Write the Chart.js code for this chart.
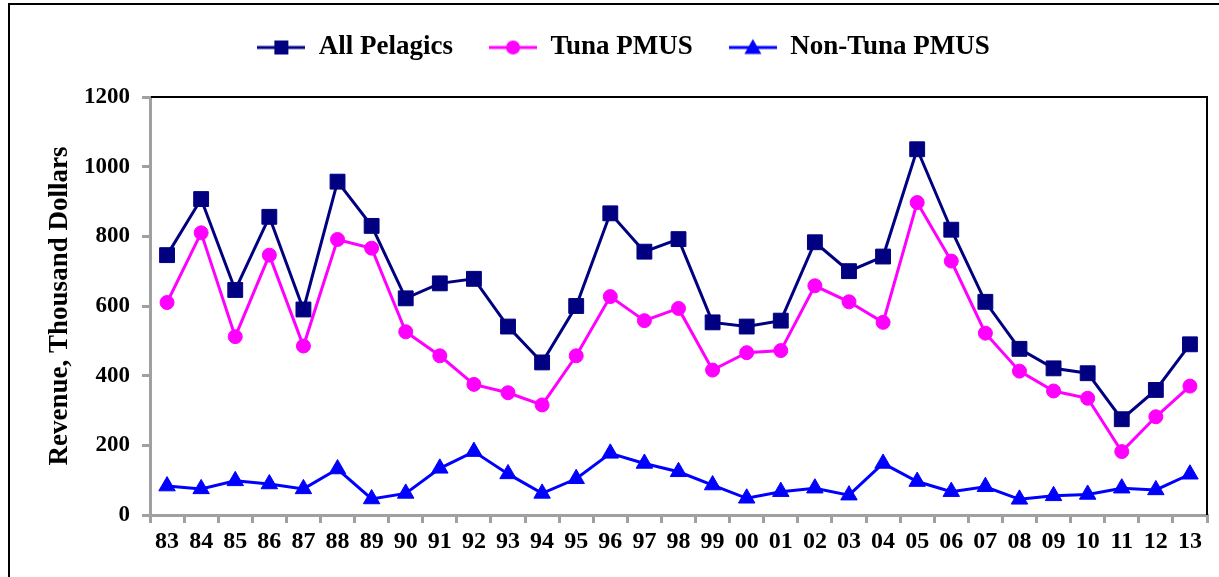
<!DOCTYPE html>
<html><head><meta charset="utf-8">
<script src="https://cdn.jsdelivr.net/npm/chart.js@4/dist/chart.umd.min.js"></script>
<style>
html,body{margin:0;padding:0;background:#fff;overflow:hidden;width:1219px;height:577px}
#frame{position:absolute;left:8px;top:3px;width:1400px;height:800px;border:2px solid #000;box-sizing:border-box}
#wrap{position:absolute;left:0;top:0;width:1219px;height:577px}
</style></head><body>
<div id="frame"></div>
<div id="wrap"><canvas id="c" width="1219" height="577"></canvas></div>
<script>
const categories = ['83','84','85','86','87','88','89','90','91','92','93','94','95','96','97','98','99','00','01','02','03','04','05','06','07','08','09','10','11','12','13'];
const allPelagics = [746,907,646,856,590,957,830,622,665,678,541,438,600,866,756,792,553,541,558,783,700,742,1050,819,612,477,421,407,275,359,490];
const tunaPMUS    = [610,810,512,746,485,791,766,526,457,375,351,316,457,627,558,593,416,466,472,658,612,553,897,729,522,413,356,335,182,282,370];
const nonTunaPMUS = [83,75,98,89,75,132,46,62,134,182,118,62,104,177,148,124,86,48,67,77,57,148,96,67,81,45,55,59,77,72,117];
const yTickValues = [0,200,400,600,800,1000,1200];
const seriesNames = ['All Pelagics','Tuna PMUS','Non-Tuna PMUS'];
const seriesColors = ['#000080','#FF00FF','#0000FF'];
const seriesStyles = ['rect','circle','triangle'];
const yTitle = 'Revenue, Thousand Dollars';

const FONT = "'Liberation Serif','Times New Roman',serif";

function makeIcon(color, style){
  const c = document.createElement('canvas');
  c.width = 48; c.height = 20;
  const g = c.getContext('2d');
  g.strokeStyle = color; g.fillStyle = color; g.lineWidth = 3;
  g.beginPath(); g.moveTo(0,10); g.lineTo(48,10); g.stroke();
  g.beginPath();
  if (style === 'rect') { g.rect(17,3,14,14); }
  else if (style === 'circle') { g.arc(24,10,7,0,Math.PI*2); }
  else { g.moveTo(24,1.5); g.lineTo(32.5,16.5); g.lineTo(15.5,16.5); g.closePath(); }
  g.fill();
  return c;
}
const icons = seriesColors.map((c,i)=>makeIcon(c, seriesStyles[i]));

const seriesData = [allPelagics, tunaPMUS, nonTunaPMUS];
const radii = [10.5, 7, 9.5];

const plotBorder = {
  id: 'plotBorder',
  beforeUpdate(chart){
    const lg = chart.legend;
    if (lg && !lg._patched){
      const origFit = lg.fit;
      lg.fit = function(){ origFit.call(this); this.height = 96; };
      const origDraw = lg.draw;
      lg.draw = function(){ const c = this.ctx; c.save(); c.translate(0,-3); origDraw.call(this); c.restore(); };
      lg._patched = true;
    }
  },
  afterDatasetsDraw(chart){
    const {ctx, chartArea:{left,top,right,bottom}} = chart;
    ctx.save();
    ctx.strokeStyle = '#000'; ctx.lineWidth = 2;
    ctx.beginPath(); ctx.moveTo(left+1, top); ctx.lineTo(right, top); ctx.lineTo(right, bottom); ctx.stroke();
    ctx.restore();
  }
};

new Chart(document.getElementById('c'), {
  type: 'line',
  data: {
    labels: categories,
    datasets: seriesData.map((d,i)=>({
      label: seriesNames[i],
      data: d,
      borderColor: seriesColors[i],
      backgroundColor: seriesColors[i],
      borderWidth: 3,
      pointStyle: seriesStyles[i],
      pointRadius: radii[i],
      pointBorderWidth: 1,
      pointBackgroundColor: seriesColors[i],
      pointBorderColor: seriesColors[i],
      tension: 0,
      clip: false
    }))
  },
  options: {
    responsive: false,
    animation: false,
    devicePixelRatio: 1,
    layout: { padding: { left: 40, right: 12, top: 1, bottom: 0 } },
    plugins: {
      tooltip: { enabled: false },
      legend: {
        position: 'top',
        labels: {
          usePointStyle: true,
          pointStyleWidth: 48,
          padding: 36,
          color: '#000',
          font: { family: FONT, size: 27, weight: 'bold' },
          generateLabels(chart){
            return chart.data.datasets.map((ds,i)=>({
              text: ds.label, pointStyle: icons[i], fillStyle: ds.borderColor,
              strokeStyle: ds.borderColor, lineWidth: 0, hidden: false, datasetIndex: i, fontColor: '#000'
            }));
          }
        }
      }
    },
    scales: {
      x: {
        offset: true,
        afterFit(s){ s.height = 62; },
        border: { color: '#a0a0a0', width: 3 },
        grid: { offset: true, drawOnChartArea: false, drawTicks: true, tickLength: 8, color: '#a0a0a0', lineWidth: 3 },
        ticks: { color: '#000', padding: 4, maxRotation: 0, autoSkip: false, font: { family: FONT, size: 24, weight: 'bold' } }
      },
      y: {
        min: 0, max: 1200,
        afterFit(s){ s.width = 110; },
        afterBuildTicks(s){ s.ticks = yTickValues.map(v=>({value:v})); },
        border: { color: '#a0a0a0', width: 3 },
        grid: { drawOnChartArea: false, drawTicks: true, tickLength: 8, color: '#a0a0a0', lineWidth: 3 },
        ticks: { color: '#000', padding: 12, callback: v => String(v), font: { family: FONT, size: 23, weight: 'bold' } },
        title: { display: true, text: yTitle, color: '#000', padding: { top: 4, bottom: 0 }, font: { family: FONT, size: 27, weight: 'bold' } }
      }
    }
  },
  plugins: [plotBorder]
});
</script>
</body></html>
